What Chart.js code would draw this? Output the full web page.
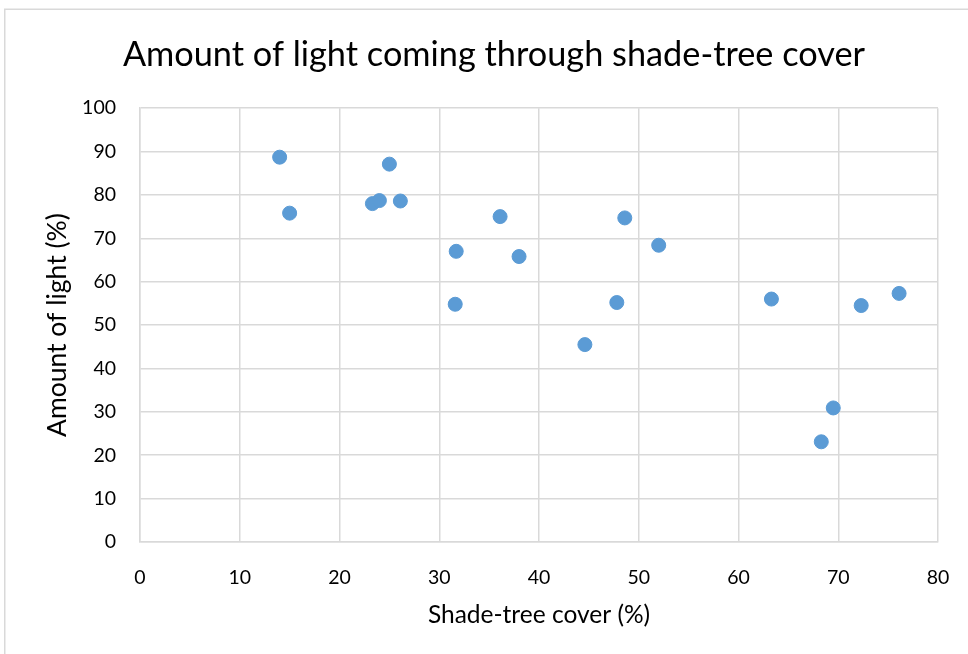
<!DOCTYPE html>
<html>
<head>
<meta charset="utf-8">
<script src="https://cdn.jsdelivr.net/npm/chart.js@4/dist/chart.umd.min.js"></script>
<style>
  html, body { margin: 0; padding: 0; background: #ffffff; }
  #wrap { width: 968px; height: 654px; position: relative; }
</style>
</head>
<body>
<div id="wrap"><canvas id="chart" width="968" height="654"></canvas></div>
<script>
// Shade-tree cover (%) and amount of light (%) per plot
const shadeCover = [14.0, 15.0, 23.3, 24.0, 25.0, 26.1, 31.7, 31.6, 36.1, 38.0, 44.6, 47.8, 48.6, 52.0, 63.3, 68.3, 69.5, 72.3, 76.1];
const lightAmount = [88.7, 75.8, 78.0, 78.7, 87.1, 78.6, 67.0, 54.8, 75.0, 65.8, 45.5, 55.2, 74.7, 68.4, 56.0, 23.1, 30.9, 54.5, 57.3];

const xTicks = [0, 10, 20, 30, 40, 50, 60, 70, 80];
const yTicks = [0, 10, 20, 30, 40, 50, 60, 70, 80, 90, 100];

const points = shadeCover.map((x, i) => ({ x: x, y: lightAmount[i] }));

const FONT = "Lato, 'Liberation Sans', sans-serif";
const GRID = '#d9d9d9';

// Light frame around the chart
const framePlugin = {
  id: 'frame',
  beforeDraw(chart) {
    const ctx = chart.ctx;
    ctx.save();
    ctx.fillStyle = '#ffffff';
    ctx.fillRect(0, 0, chart.width, chart.height);
    ctx.strokeStyle = GRID;
    ctx.lineWidth = 1.5;
    ctx.beginPath();
    ctx.moveTo(4.75, chart.height);
    ctx.lineTo(4.75, 9.25);
    ctx.lineTo(chart.width, 9.25);
    ctx.stroke();
    ctx.restore();
  }
};

new Chart(document.getElementById('chart'), {
  type: 'scatter',
  data: {
    datasets: [{
      data: points,
      backgroundColor: '#5b9bd5',
      borderColor: '#5b9bd5',
      borderWidth: 1,
      pointRadius: 7,
      pointHoverRadius: 7
    }]
  },
  options: {
    responsive: false,
    animation: false,
    layout: { padding: { left: 30, right: 10, top: 0, bottom: 0 } },
    plugins: {
      legend: { display: false },
      tooltip: { enabled: false },
      title: {
        display: true,
        text: 'Amount of light coming through shade-tree cover',
        color: '#000000',
        font: { family: FONT, size: 34.3, weight: 'normal', lineHeight: 1.2 },
        padding: { top: 34, bottom: 33 }
      }
    },
    scales: {
      x: {
        type: 'linear',
        min: 0,
        max: 80,
        afterBuildTicks(scale) { scale.ticks = xTicks.map(v => ({ value: v })); },
        afterFit(scale) {
          scale.height = 112;
          scale.paddingLeft = 0;
          scale.paddingRight = 30;
        },
        grid: { color: GRID, lineWidth: 1.5, drawTicks: false },
        border: { display: true, color: GRID, width: 1.5 },
        ticks: {
          color: '#000000',
          font: { family: FONT, size: 19.5 },
          padding: 24,
          maxRotation: 0
        },
        title: {
          display: true,
          text: 'Shade-tree cover (%)',
          color: '#000000',
          font: { family: FONT, size: 24.5, lineHeight: 1.2 },
          padding: { top: 0, bottom: 24 }
        }
      },
      y: {
        type: 'linear',
        min: 0,
        max: 100,
        afterBuildTicks(scale) { scale.ticks = yTicks.map(v => ({ value: v })); },
        afterFit(scale) { scale.width = 110; },
        grid: { color: GRID, lineWidth: 1.5, drawTicks: false },
        border: { display: true, color: GRID, width: 1.5 },
        ticks: {
          color: '#000000',
          font: { family: FONT, size: 19.5 },
          padding: 24
        },
        title: {
          display: true,
          text: 'Amount of light (%)',
          color: '#000000',
          font: { family: FONT, size: 26.5, lineHeight: 1.2 },
          padding: { top: 12, bottom: 0 }
        }
      }
    }
  },
  plugins: [framePlugin]
});
</script>
</body>
</html>
